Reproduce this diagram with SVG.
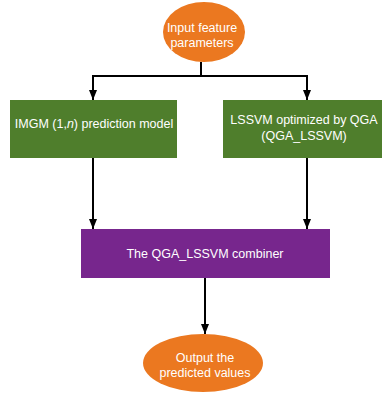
<svg xmlns="http://www.w3.org/2000/svg" width="382" height="393" viewBox="0 0 382 393">
<style>
.t{font-family:"Liberation Sans",Arial,sans-serif;font-size:12.5px;fill:#fff;text-anchor:middle}
.c{stroke:#000;stroke-width:2;fill:none}
</style>
<defs>
<marker id="ah" markerWidth="10" markerHeight="8" refX="10" refY="4" orient="auto" markerUnits="userSpaceOnUse" viewBox="0 0 10 8">
<path d="M0,0 L10,4 L0,8 Z" fill="#000"/>
</marker>
</defs>
<rect width="382" height="393" fill="#fff"/>
<g id="connectors">
<path class="c" d="M201,62 V76"/>
<path class="c" d="M92,76 H308"/>
<path class="c" d="M93,75 V100" marker-end="url(#ah)"/>
<path class="c" d="M307,75 V100" marker-end="url(#ah)"/>
<path class="c" d="M93,158 V229" marker-end="url(#ah)"/>
<path class="c" d="M307,158 V229" marker-end="url(#ah)"/>
<path class="c" d="M205,278 V334" marker-end="url(#ah)"/>
</g>
<g id="input">
<ellipse cx="204" cy="32" rx="41" ry="30" fill="#EB7820"/>
<text class="t" x="202" y="32">Input feature</text>
<text class="t" x="202" y="47">parameters</text>
</g>
<g id="imgm">
<rect x="10" y="100" width="167" height="58" fill="#4F7E2C"/>
<text class="t" x="94" y="128">IMGM (1,<tspan font-style="italic">n</tspan>) prediction model</text>
</g>
<g id="lssvm">
<rect x="223" y="100" width="159" height="58" fill="#4F7E2C"/>
<text class="t" x="304" y="124">LSSVM optimized by QGA</text>
<text class="t" x="304" y="140">(QGA_LSSVM)</text>
</g>
<g id="combiner">
<rect x="81" y="229" width="249" height="49" fill="#77268D"/>
<text class="t" x="205" y="258">The QGA_LSSVM combiner</text>
</g>
<g id="output">
<ellipse cx="203" cy="363" rx="60" ry="29" fill="#EB7820"/>
<text class="t" x="205" y="362">Output the</text>
<text class="t" x="205" y="377">predicted values</text>
</g>
</svg>
